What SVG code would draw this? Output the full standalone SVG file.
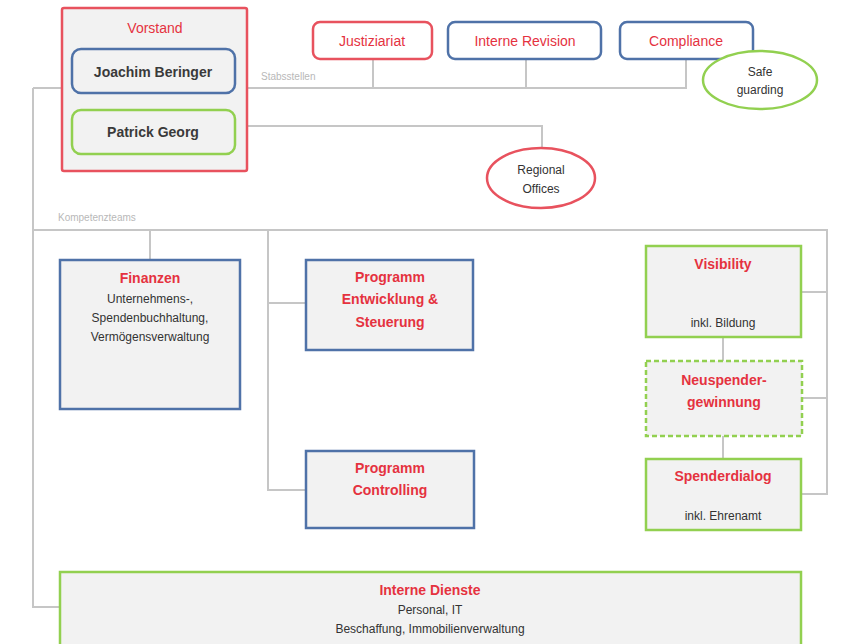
<svg xmlns="http://www.w3.org/2000/svg" width="843" height="644" viewBox="0 0 843 644">
<style>
text{font-family:"Liberation Sans",Arial,sans-serif;text-anchor:middle}
.t{fill:#e5323f;font-weight:bold;font-size:14px}
.tr{fill:#e5323f;font-size:14px}
.n{fill:#3a3a3a;font-weight:bold;font-size:14px}
.s{fill:#333;font-size:12px}
.lab{fill:#b8b8b8;font-size:10px;text-anchor:start}
.red{stroke:#e8525e}
.blue{stroke:#4f72a8}
.green{stroke:#92d050}
.box{fill:#f2f2f2;stroke-width:2.5}
.wbox{fill:#fff;stroke-width:2.5}
.con{fill:none;stroke:#c6c6c6;stroke-width:2}
</style>
<rect width="843" height="644" fill="#fff"/>
<g id="connectors">
<polyline class="con" points="247,88 686,88 686,59"/>
<line class="con" x1="33" y1="88" x2="62" y2="88"/>
<line class="con" x1="373" y1="59" x2="373" y2="88"/>
<line class="con" x1="526" y1="59" x2="526" y2="88"/>
<polyline class="con" points="247,126 542,126 542,148"/>
<polyline class="con" points="33,88 33,607 60,607"/>
<polyline class="con" points="33,230 827,230 827,494 801,494"/>
<line class="con" x1="801" y1="292" x2="827" y2="292"/>
<line class="con" x1="802" y1="398" x2="827" y2="398"/>
<line class="con" x1="150" y1="230" x2="150" y2="260"/>
<polyline class="con" points="268,230 268,490 306,490"/>
<line class="con" x1="268" y1="303" x2="306" y2="303"/>
<line class="con" x1="723" y1="337" x2="723" y2="361"/>
<line class="con" x1="723" y1="436" x2="723" y2="459"/>
<text class="lab" x="261" y="80">Stabsstellen</text>
<text class="lab" x="58" y="221">Kompetenzteams</text>
</g>
<g id="vorstand">
<rect class="box red" x="62" y="8" width="185" height="163" rx="2"/>
<text class="tr" x="155" y="33">Vorstand</text>
</g>
<g id="beringer">
<rect class="box blue" x="72" y="49" width="163" height="44" rx="9"/>
<text class="n" x="153" y="77">Joachim Beringer</text>
</g>
<g id="georg">
<rect class="box green" x="72" y="110" width="163" height="44" rx="9"/>
<text class="n" x="153" y="137">Patrick Georg</text>
</g>
<g id="justiziariat">
<rect class="wbox red" x="313" y="22" width="119" height="37" rx="7"/>
<text class="tr" x="372" y="46">Justiziariat</text>
</g>
<g id="revision">
<rect class="wbox blue" x="448" y="22" width="153" height="37" rx="7"/>
<text class="tr" x="525" y="46">Interne Revision</text>
</g>
<g id="compliance">
<rect class="wbox blue" x="620" y="22" width="133" height="37" rx="7"/>
<text class="tr" x="686" y="46">Compliance</text>
</g>
<g id="safeguarding">
<ellipse class="wbox green" cx="760" cy="80" rx="57" ry="29"/>
<text class="s" x="760" y="76">Safe</text>
<text class="s" x="760" y="94">guarding</text>
</g>
<g id="regional">
<ellipse class="wbox red" cx="541" cy="178" rx="54" ry="30"/>
<text class="s" x="541" y="174">Regional</text>
<text class="s" x="541" y="193">Offices</text>
</g>
<g id="finanzen">
<rect class="box blue" x="60" y="260" width="180" height="149"/>
<text class="t" x="150" y="283">Finanzen</text>
<text class="s" x="150" y="303">Unternehmens-,</text>
<text class="s" x="150" y="322">Spendenbuchhaltung,</text>
<text class="s" x="150" y="341">Vermögensverwaltung</text>
</g>
<g id="programm-entwicklung">
<rect class="box blue" x="306" y="260" width="167" height="90"/>
<text class="t" x="390" y="282">Programm</text>
<text class="t" x="390" y="304">Entwicklung &amp;</text>
<text class="t" x="390" y="327">Steuerung</text>
</g>
<g id="programm-controlling">
<rect class="box blue" x="306" y="451" width="168" height="77"/>
<text class="t" x="390" y="473">Programm</text>
<text class="t" x="390" y="495">Controlling</text>
</g>
<g id="visibility">
<rect class="box green" x="646" y="246" width="155" height="91"/>
<text class="t" x="723" y="269">Visibility</text>
<text class="s" x="723" y="327">inkl. Bildung</text>
</g>
<g id="neuspender">
<rect class="box green" x="646" y="361" width="156" height="75" stroke-dasharray="5,3"/>
<text class="t" x="724" y="385">Neuspender-</text>
<text class="t" x="724" y="407">gewinnung</text>
</g>
<g id="spenderdialog">
<rect class="box green" x="646" y="459" width="155" height="71"/>
<text class="t" x="723" y="481">Spenderdialog</text>
<text class="s" x="723" y="520">inkl. Ehrenamt</text>
</g>
<g id="interne-dienste">
<rect class="box green" x="60" y="572" width="741" height="80"/>
<text class="t" x="430" y="595">Interne Dienste</text>
<text class="s" x="430" y="614">Personal, IT</text>
<text class="s" x="430" y="633">Beschaffung, Immobilienverwaltung</text>
</g>
</svg>
